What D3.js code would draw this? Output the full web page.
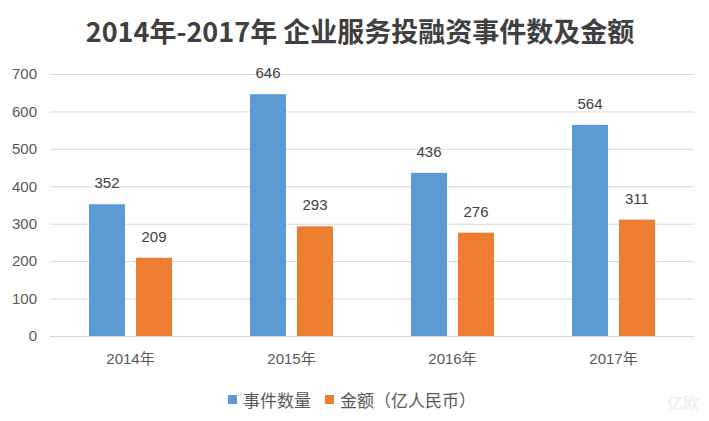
<!DOCTYPE html>
<html><head><meta charset="utf-8">
<script src="https://cdn.jsdelivr.net/npm/d3@7/dist/d3.min.js"></script>
<style>body{margin:0;background:#fff}svg{display:block}</style>
</head><body>
<svg id="chart" width="709" height="421"></svg>
<script>
const categories = ["2014年", "2015年", "2016年", "2017年"];
const seriesNames = ["事件数量", "金额（亿人民币）"];
const eventCounts = [352, 646, 436, 564];
const amounts = [209, 293, 276, 311];
const yTicks = [0, 100, 200, 300, 400, 500, 600, 700];
const colors = ["#5B9BD5", "#ED7D31"];
const title = "2014年-2017年 企业服务投融资事件数及金额";

const svg = d3.select("#chart");
const W = 709, H = 421;
const m = {left: 50, right: 15, top: 74, bottom: 85};
const x0 = d3.scaleBand().domain(categories).range([m.left, W - m.right]).paddingInner(0).paddingOuter(0);
const x1 = d3.scaleBand().domain(seriesNames).range([0, x0.bandwidth()]).paddingInner(0.234).paddingOuter(0.83);
const y = d3.scaleLinear().domain([0, 700]).range([H - m.bottom, m.top]);

const font = "'Liberation Sans', Arial, 'Noto Sans CJK SC', sans-serif";
const cjk = "'Noto Sans CJK SC', sans-serif";

// title
svg.append("text").attr("x", 360).attr("y", 42).attr("text-anchor", "middle")
  .attr("font-family", cjk).attr("font-weight", "bold").attr("font-size", 27)
  .attr("fill", "#404040").text(title);

// grid
const yAxis = d3.axisLeft(y).tickValues(yTicks).tickSize(-(W - m.left - m.right)).tickPadding(13);
const gy = svg.append("g").attr("transform", `translate(${m.left},0)`).call(yAxis);
gy.select(".domain").remove();
gy.selectAll(".tick line").attr("stroke", "#d9d9d9").attr("stroke-width", 1);
gy.selectAll(".tick text").attr("font-family", font).attr("font-size", 15).attr("fill", "#595959");

// x axis
const xAxis = d3.axisBottom(x0).tickSize(0).tickPadding(17);
const gx = svg.append("g").attr("transform", `translate(0,${y(0)})`).call(xAxis);
gx.select(".domain").attr("stroke", "#d9d9d9");
gx.selectAll(".tick text").attr("font-family", font).attr("font-size", 15).attr("fill", "#595959");

const data = categories.map((c, i) => ({cat: c, vals: [eventCounts[i], amounts[i]]}));
const groups = svg.append("g").selectAll("g").data(data).join("g")
  .attr("transform", d => `translate(${x0(d.cat)},0)`);
groups.selectAll("rect").data(d => d.vals.map((v, j) => ({s: seriesNames[j], v, j})))
  .join("rect")
  .attr("x", d => x1(d.s)).attr("width", x1.bandwidth())
  .attr("y", d => y(d.v)).attr("height", d => y(0) - y(d.v))
  .attr("fill", d => colors[d.j]);
groups.selectAll("text.val").data(d => d.vals.map((v, j) => ({s: seriesNames[j], v, j})))
  .join("text").attr("class", "val")
  .attr("x", d => x1(d.s) + x1.bandwidth() / 2).attr("y", d => y(d.v) - 16)
  .attr("text-anchor", "middle").attr("font-family", font).attr("font-size", 15)
  .attr("fill", "#404040").text(d => d.v);

// legend
const leg = svg.append("g").attr("transform", "translate(0,407)");
const legX = [228, 325];
seriesNames.forEach((s, i) => {
  leg.append("rect").attr("x", legX[i]).attr("y", -12).attr("width", 9).attr("height", 9).attr("fill", colors[i]);
  leg.append("text").attr("x", legX[i] + 15).attr("y", 0).attr("font-family", cjk)
    .attr("font-size", 17).attr("fill", "#595959").text(s);
});

// watermark
svg.append("text").attr("x", 667).attr("y", 409).attr("font-family", cjk).attr("font-size", 16)
  .attr("fill", "#ececec").text("亿欧");
</script>
</body></html>
